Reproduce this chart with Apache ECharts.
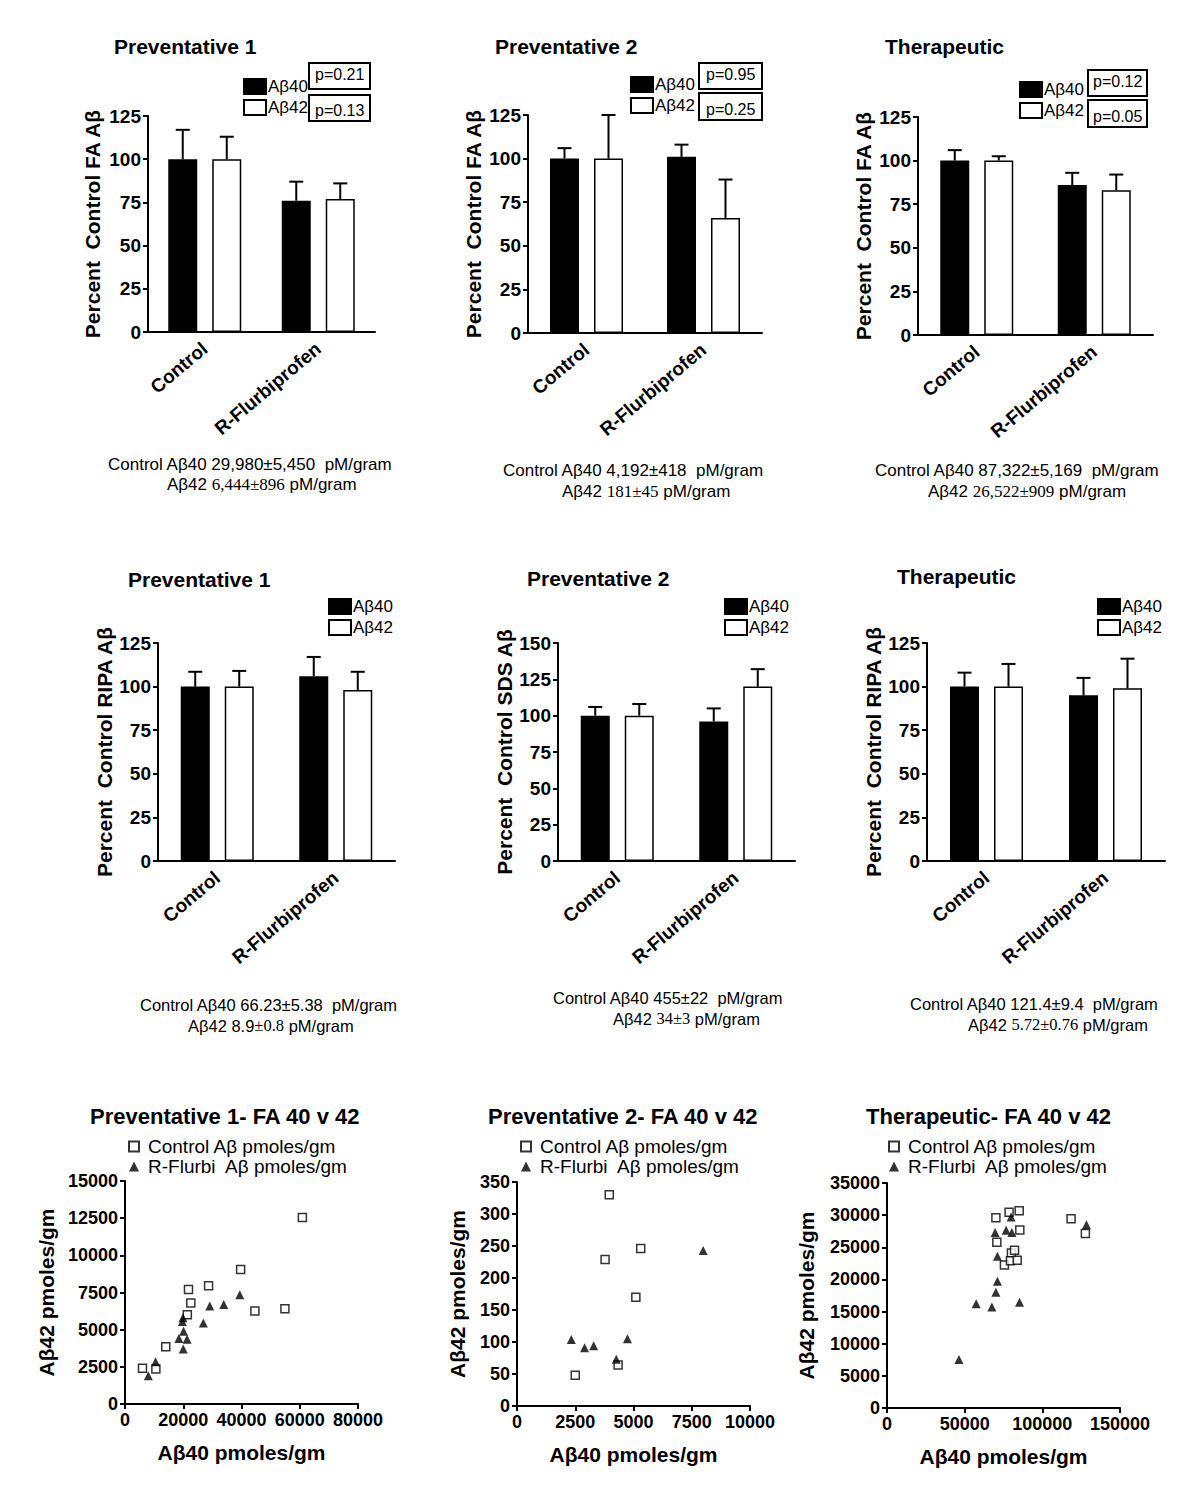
<!DOCTYPE html>
<html><head><meta charset="utf-8">
<script src="https://cdn.jsdelivr.net/npm/echarts@6/dist/echarts.min.js"></script>
<style>html,body{margin:0;padding:0;background:#fff}#c{width:1200px;height:1496px}</style>
</head><body><div id="c"></div>
<script>
// ---------------- DATA ----------------
const barCategories = ['Control', 'R-Flurbiprofen'];
const seriesNames = ['Aβ40', 'Aβ42'];
const yTicks125 = [0, 25, 50, 75, 100, 125];
const yTicks150 = [0, 25, 50, 75, 100, 125, 150];

// Row 1: FA extracts (percent control, mean and upper SEM)
const prev1FA_ab40 = [100, 76];   const prev1FA_ab40Err = [17, 11];
const prev1FA_ab42 = [100, 77];   const prev1FA_ab42Err = [13, 9];
const prev2FA_ab40 = [100, 101];  const prev2FA_ab40Err = [6, 7];
const prev2FA_ab42 = [100, 66];   const prev2FA_ab42Err = [25, 22];
const therFA_ab40  = [100, 86];   const therFA_ab40Err  = [6, 7];
const therFA_ab42  = [100, 83];   const therFA_ab42Err  = [2.5, 9];
// Row 2: RIPA / SDS extracts
const prev1RIPA_ab40 = [100, 106]; const prev1RIPA_ab40Err = [8.5, 11];
const prev1RIPA_ab42 = [100, 98];  const prev1RIPA_ab42Err = [9, 10.5];
const prev2SDS_ab40  = [100, 96];  const prev2SDS_ab40Err  = [6, 9];
const prev2SDS_ab42  = [100, 120]; const prev2SDS_ab42Err  = [8, 12];
const therRIPA_ab40  = [100, 95];  const therRIPA_ab40Err  = [8, 10];
const therRIPA_ab42  = [100, 99];  const therRIPA_ab42Err  = [13, 17];

const prev1FA_p = ['p=0.21', 'p=0.13'];
const prev2FA_p = ['p=0.95', 'p=0.25'];
const therFA_p  = ['p=0.12', 'p=0.05'];

// Row 3: scatter Aβ40 vs Aβ42 (pmoles/gm)
const scatterNames = ['Control Aβ pmoles/gm', 'R-Flurbi  Aβ pmoles/gm'];
const prev1Control = [[6000,2400],[10600,2350],[14000,3850],[21400,6000],[21800,7700],[22600,6800],[28700,7950],[39700,9050],[44600,6250],[54900,6400],[60900,12550]];
const prev1Flurbi  = [[8000,1900],[10500,2850],[18500,4400],[19700,5550],[19900,5800],[20100,4900],[20000,3700],[21300,4350],[26900,5450],[29100,6600],[33900,6700],[39400,7350]];
const prev2Control = [[2500,48],[3780,229],[3960,330],[4340,64],[5100,170],[5310,246]];
const prev2Flurbi  = [[2330,104],[2900,91],[3290,94],[4260,73],[4740,105],[7990,243]];
const therControl  = [[70100,29600],[70700,25800],[75600,22250],[78600,30450],[80100,24100],[82100,24550],[79500,22900],[83800,23000],[85100,30700],[85500,27700],[118500,29450],[127700,27150]];
const therFlurbi   = [[46300,7550],[57400,16200],[67500,15700],[70100,18000],[71100,19700],[71100,23600],[69600,27300],[76700,27650],[80400,27300],[79900,29700],[85300,16450],[128400,28500]];
const prev1XTicks = [0, 20000, 40000, 60000, 80000];
const prev1YTicks = [0, 2500, 5000, 7500, 10000, 12500, 15000];
const prev2XTicks = [0, 2500, 5000, 7500, 10000];
const prev2YTicks = [0, 50, 100, 150, 200, 250, 300, 350];
const therXTicks  = [0, 50000, 100000, 150000];
const therYTicks  = [0, 5000, 10000, 15000, 20000, 25000, 30000, 35000];

// ---------------- LAYOUT / STYLE ----------------
const FONT = '"Liberation Sans", Arial, Helvetica, sans-serif';
const SERIF = '"Liberation Serif", "Times New Roman", serif';
const BAR_W = 29, BAR_GAP = 15, ERR_OFF = (BAR_W + BAR_GAP) / 2;
const plainNum = v => String(v);

const barPanels = [
  {grid:{left:148,top:116,width:227,height:216}, nameGap:45, yName:'Percent  Control FA Aβ', ticks:yTicks125, d40:prev1FA_ab40, e40:prev1FA_ab40Err, d42:prev1FA_ab42, e42:prev1FA_ab42Err, legend:{left:243,top:78}},
  {grid:{left:528,top:115,width:234,height:218}, nameGap:44, yName:'Percent  Control FA Aβ', ticks:yTicks125, d40:prev2FA_ab40, e40:prev2FA_ab40Err, d42:prev2FA_ab42, e42:prev2FA_ab42Err, legend:{left:630,top:76}},
  {grid:{left:918,top:117,width:235,height:218}, nameGap:44, yName:'Percent  Control FA Aβ', ticks:yTicks125, d40:therFA_ab40, e40:therFA_ab40Err, d42:therFA_ab42, e42:therFA_ab42Err, legend:{left:1019,top:81}},
  {grid:{left:158,top:643,width:237,height:218}, nameGap:40, yName:'Percent  Control RIPA Aβ', ticks:yTicks125, d40:prev1RIPA_ab40, e40:prev1RIPA_ab40Err, d42:prev1RIPA_ab42, e42:prev1RIPA_ab42Err, legend:{left:328,top:598}},
  {grid:{left:558,top:643,width:237,height:218}, nameGap:41, yName:'Percent  Control SDS Aβ', ticks:yTicks150, d40:prev2SDS_ab40, e40:prev2SDS_ab40Err, d42:prev2SDS_ab42, e42:prev2SDS_ab42Err, legend:{left:724,top:598}},
  {grid:{left:927,top:643,width:238,height:218}, nameGap:40, yName:'Percent  Control RIPA Aβ', ticks:yTicks125, d40:therRIPA_ab40, e40:therRIPA_ab40Err, d42:therRIPA_ab42, e42:therRIPA_ab42Err, legend:{left:1097,top:598}}
];
const scatterPanels = [
  {grid:{left:125,top:1181,width:233,height:223}, yGap:68, xt:prev1XTicks, yt:prev1YTicks, c:prev1Control, f:prev1Flurbi, legend:{left:128,top:1137}},
  {grid:{left:517,top:1182,width:233,height:224}, yGap:49, xt:prev2XTicks, yt:prev2YTicks, c:prev2Control, f:prev2Flurbi, legend:{left:520,top:1137}},
  {grid:{left:887,top:1183,width:233,height:225}, yGap:70, xt:therXTicks, yt:therYTicks, c:therControl, f:therFlurbi, legend:{left:888,top:1137}}
];

const axisLineStyle = {color:'#000', width:2};
const grids = [], xAxes = [], yAxes = [], series = [], legends = [], titles = [];

function errSeries(idx, vals, errs, off) {
  return {
    type:'custom', xAxisIndex:idx, yAxisIndex:idx, z:5, silent:true,
    data: vals.map((v, i) => [i, v, v + errs[i]]),
    renderItem: (params, api) => {
      const b = api.coord([api.value(0), api.value(1)]);
      const t = api.coord([api.value(0), api.value(2)]);
      const x = b[0] + off;
      return {type:'group', children:[
        {type:'line', shape:{x1:x, y1:b[1], x2:x, y2:t[1]}, style:{stroke:'#000', lineWidth:2}},
        {type:'line', shape:{x1:x-7, y1:t[1], x2:x+7, y2:t[1]}, style:{stroke:'#000', lineWidth:2}}
      ]};
    }
  };
}

barPanels.forEach((p, i) => {
  grids.push(Object.assign({outerBoundsMode:'none', containLabel:false}, p.grid));
  xAxes.push({
    type:'category', gridIndex:i, data:barCategories,
    axisLine:{lineStyle:axisLineStyle},
    axisTick:{alignWithLabel:true, length:5, lineStyle:axisLineStyle},
    axisLabel:{rotate:40, margin:14, color:'#000', fontFamily:FONT, fontWeight:'bold', fontSize:19, interval:0}
  });
  const tk = p.ticks;
  yAxes.push({
    type:'value', gridIndex:i, min:tk[0], max:tk[tk.length-1], interval:tk[1]-tk[0],
    name:p.yName, nameLocation:'middle', nameGap:p.nameGap,
    nameTextStyle:{color:'#000', fontFamily:FONT, fontWeight:'bold', fontSize:21},
    axisLine:{show:true, lineStyle:axisLineStyle},
    axisTick:{show:true, length:5, lineStyle:axisLineStyle},
    splitLine:{show:false},
    axisLabel:{margin:7, color:'#000', fontFamily:FONT, fontWeight:'bold', fontSize:19, formatter:plainNum}
  });
  series.push({type:'bar', name:seriesNames[0], xAxisIndex:i, yAxisIndex:i, data:p.d40, barWidth:BAR_W, barGap:(BAR_GAP/BAR_W*100)+'%',
    itemStyle:{color:'#000', borderColor:'#000', borderWidth:1.5}, silent:true});
  series.push({type:'bar', name:seriesNames[1], xAxisIndex:i, yAxisIndex:i, data:p.d42, barWidth:BAR_W,
    itemStyle:{color:'#fff', borderColor:'#000', borderWidth:1.5}, silent:true});
  series.push(errSeries(i, p.d40, p.e40, -ERR_OFF));
  series.push(errSeries(i, p.d42, p.e42, ERR_OFF));
  legends.push({data:seriesNames, orient:'vertical', left:p.legend.left, top:p.legend.top, icon:'rect',
    itemWidth:22, itemHeight:15, itemGap:4, padding:0, selectedMode:false,
    textStyle:{color:'#000', fontFamily:FONT, fontSize:17, lineHeight:15, padding:[0,0,0,-3]}});
});

scatterPanels.forEach((p, k) => {
  const i = barPanels.length + k;
  grids.push(Object.assign({outerBoundsMode:'none', containLabel:false}, p.grid));
  xAxes.push({
    type:'value', gridIndex:i, min:p.xt[0], max:p.xt[p.xt.length-1], interval:p.xt[1]-p.xt[0],
    name:'Aβ40 pmoles/gm', nameLocation:'middle', nameGap:38,
    nameTextStyle:{color:'#000', fontFamily:FONT, fontWeight:'bold', fontSize:21},
    axisLine:{lineStyle:axisLineStyle}, axisTick:{length:5, lineStyle:axisLineStyle}, splitLine:{show:false},
    axisLabel:{margin:7, color:'#000', fontFamily:FONT, fontWeight:'bold', fontSize:18, formatter:plainNum}
  });
  yAxes.push({
    type:'value', gridIndex:i, min:p.yt[0], max:p.yt[p.yt.length-1], interval:p.yt[1]-p.yt[0],
    name:'Aβ42 pmoles/gm', nameLocation:'middle', nameGap:p.yGap,
    nameTextStyle:{color:'#000', fontFamily:FONT, fontWeight:'bold', fontSize:21},
    axisLine:{show:true, lineStyle:axisLineStyle}, axisTick:{show:true, length:5, lineStyle:axisLineStyle}, splitLine:{show:false},
    axisLabel:{margin:7, color:'#000', fontFamily:FONT, fontWeight:'bold', fontSize:18, formatter:plainNum}
  });
  series.push({type:'scatter', name:scatterNames[0], xAxisIndex:i, yAxisIndex:i, data:p.c, symbol:'rect', symbolSize:8,
    itemStyle:{color:'#fff', borderColor:'#000', borderWidth:1.5}, silent:true});
  series.push({type:'scatter', name:scatterNames[1], xAxisIndex:i, yAxisIndex:i, data:p.f, symbol:'triangle', symbolSize:9,
    itemStyle:{color:'#000'}, silent:true});
  legends.push({data:scatterNames, orient:'vertical', left:p.legend.left, top:p.legend.top,
    itemWidth:10, itemHeight:10, itemGap:1, padding:0, selectedMode:false,
    textStyle:{color:'#000', fontFamily:FONT, fontSize:19, lineHeight:19, padding:[0,0,0,4]}});
});

// Titles and annotation texts
function addTitle(text, left, top, size, bold) {
  titles.push({text, left, top, padding:0, textStyle:{color:'#000', fontFamily:FONT, fontSize:size, fontWeight:bold?'bold':'normal'}});
}
addTitle('Preventative 1', 114, 36, 21, true);
addTitle('Preventative 2', 495, 36, 21, true);
addTitle('Therapeutic', 885, 36, 21, true);
addTitle('Preventative 1', 128, 569, 21, true);
addTitle('Preventative 2', 527, 568, 21, true);
addTitle('Therapeutic', 897, 566, 21, true);
addTitle('Preventative 1- FA 40 v 42', 90, 1105, 22, true);
addTitle('Preventative 2- FA 40 v 42', 488, 1105, 22, true);
addTitle('Therapeutic- FA 40 v 42', 866, 1105, 22, true);

function addPBox(text, left, top, pad) {
  titles.push({text, left, top, padding:pad, borderColor:'#000', borderWidth:2,
    textStyle:{color:'#000', fontFamily:FONT, fontSize:16, fontWeight:'normal', lineHeight:16}});
}
addPBox(prev1FA_p[0], 309, 63, [3,6,7,6]);
addPBox(prev1FA_p[1], 309, 95, [7,6,3,6]);
addPBox(prev2FA_p[0], 699, 63, [3,7,7,7]);
addPBox(prev2FA_p[1], 699, 93, [8,7,3,7]);
addPBox(therFA_p[0], 1088, 70, [3,5,7,5]);
addPBox(therFA_p[1], 1088, 100, [8,5,3,5]);

function addNote(rich, left, top, size) {
  titles.push({text:rich, left, top, padding:0, textStyle:{color:'#000', fontFamily:FONT, fontSize:size, fontWeight:'normal',
    rich:{s:{fontFamily:FONT, fontSize:size, color:'#000'}, t:{fontFamily:SERIF, fontSize:size, color:'#000'}}}});
}
addNote('{s|Control Aβ40 29,980±5,450  pM/gram}', 108, 456, 17);
addNote('{s|Aβ42 }{t|6,444±896}{s| pM/gram}', 167, 476, 17);
addNote('{s|Control Aβ40 4,192±418  pM/gram}', 503, 462, 17);
addNote('{s|Aβ42 }{t|181±45}{s| pM/gram}', 562, 483, 17);
addNote('{s|Control Aβ40 87,322±5,169  pM/gram}', 875, 462, 17);
addNote('{s|Aβ42 }{t|26,522±909}{s| pM/gram}', 928, 483, 17);
addNote('{s|Control Aβ40 66.23±5.38  pM/gram}', 140, 996, 16.5);
addNote('{s|Aβ42 8.9}{t|±0.8}{s| pM/gram}', 188, 1017, 16.5);
addNote('{s|Control Aβ40 455±22  pM/gram}', 553, 989, 16.5);
addNote('{s|Aβ42 }{t|34±3}{s| pM/gram}', 613, 1010, 16.5);
addNote('{s|Control Aβ40 121.4±9.4  pM/gram}', 910, 995, 16.5);
addNote('{s|Aβ42 }{t|5.72±0.76}{s| pM/gram}', 968, 1016, 16.5);

const chart = echarts.init(document.getElementById('c'), null, {renderer:'svg', width:1200, height:1496});
chart.setOption({
  backgroundColor:'#fff', animation:false,
  title:titles, grid:grids, xAxis:xAxes, yAxis:yAxes, legend:legends, series:series, tooltip:{show:false}
});
</script></body></html>
